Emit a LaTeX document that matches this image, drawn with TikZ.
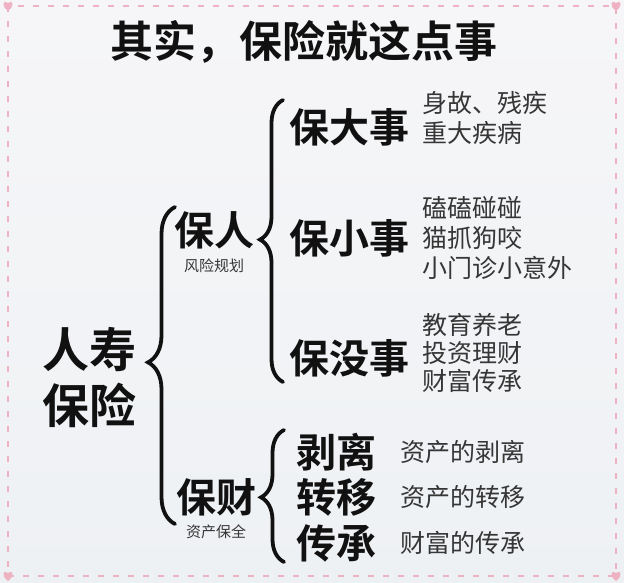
\documentclass[tikz,border=0pt]{standalone}
\usepackage{fontspec}
\newfontfamily\cjk[BoldFont={Noto Sans CJK SC Bold}]{Noto Sans CJK SC}
\usetikzlibrary{decorations.pathreplacing}
\definecolor{bgc}{HTML}{EEF1F4}
\definecolor{bgl}{HTML}{F6F6F8}
\definecolor{pinkc}{HTML}{EDB3C2}
\definecolor{inkc}{HTML}{111111}
\definecolor{greyc}{HTML}{363636}
\tikzset{
  bigtxt/.style={inner sep=0pt, anchor=west, text=inkc, font=\cjk\bfseries\fontsize{40}{42}\selectfont},
  roottxt/.style={inner sep=0pt, anchor=west, text=inkc, font=\cjk\bfseries\fontsize{47}{49}\selectfont},
  titletxt/.style={inner sep=0pt, text=inkc, font=\cjk\bfseries\fontsize{43}{45}\selectfont},
  detail/.style={inner sep=0pt, anchor=west, text=greyc, font=\cjk\fontsize{25}{26}\selectfont},
  tiny/.style={inner sep=0pt, text=greyc, font=\cjk\fontsize{15}{16}\selectfont},
  bracec/.style={decorate, decoration={brace, amplitude=#1}, line width=3.8pt, draw=inkc, line cap=round},
  heartc/.style={fill=pinkc},
  borderc/.style={draw=pinkc, line width=1.4pt, dash pattern=on 6pt off 9pt}
}
\begin{document}
\begin{tikzpicture}[x=1pt, y=-1pt]
\useasboundingbox (0,0) rectangle (624,582);
\shade[top color=bgl, bottom color=bgc] (0,0) rectangle (624,582);
\draw[borderc] (8,6) rectangle (616,576);
\foreach \cx/\cy in {8/6, 616/6, 8/576, 616/576}{
  \fill[heartc] (\cx,\cy+5) .. controls (\cx-8,\cy-1) and (\cx-4,\cy-7) .. (\cx,\cy-3)
     .. controls (\cx+4,\cy-7) and (\cx+8,\cy-1) .. (\cx,\cy+5);
}
% title
\node[titletxt] (title) at (304,42) {其实，保险就这点事};
% root
\node[roottxt] (root1) at (42,350) {人寿};
\node[roottxt] (root2) at (42,405) {保险};
% level 1
\node[bigtxt] (baoren) at (174,230) {保人};
\node[tiny] (fxgh) at (214,266) {风险规划};
\node[bigtxt] (baocai) at (176,497) {保财};
\node[tiny] (zcbq) at (216,532) {资产保全};
% level 2
\node[bigtxt] (bds) at (289,127) {保大事};
\node[bigtxt] (bxs) at (289,238) {保小事};
\node[bigtxt] (bms) at (289,358) {保没事};
\node[bigtxt] (boli) at (296,452) {剥离};
\node[bigtxt] (zhuanyi) at (296,497) {转移};
\node[bigtxt] (chuancheng) at (296,543) {传承};
% details
\node[detail] (d1) at (422,103) {身故、残疾};
\node[detail] (d2) at (422,133) {重大疾病};
\node[detail] (d3) at (422,208) {磕磕碰碰};
\node[detail] (d4) at (422,238) {猫抓狗咬};
\node[detail] (d5) at (422,268) {小门诊小意外};
\node[detail] (d6) at (422,325) {教育养老};
\node[detail] (d7) at (422,353) {投资理财};
\node[detail] (d8) at (422,381) {财富传承};
\node[detail] (e1) at (400,452) {资产的剥离};
\node[detail] (e2) at (400,497) {资产的转移};
\node[detail] (e3) at (400,543) {财富的传承};
% braces
\coordinate (b1s) at (175,524);
\coordinate (b1e) at (175,207);
\coordinate (b2s) at (283,382);
\coordinate (b2e) at (283,100);
\coordinate (b3s) at (284,562);
\coordinate (b3e) at (284,430);
\draw[bracec=27pt, decoration={aspect=0.51}] (b1s) -- (b1e);
\draw[bracec=23pt, decoration={aspect=0.505}] (b2s) -- (b2e);
\draw[bracec=23pt, decoration={aspect=0.49}] (b3s) -- (b3e);
\end{tikzpicture}
\end{document}
